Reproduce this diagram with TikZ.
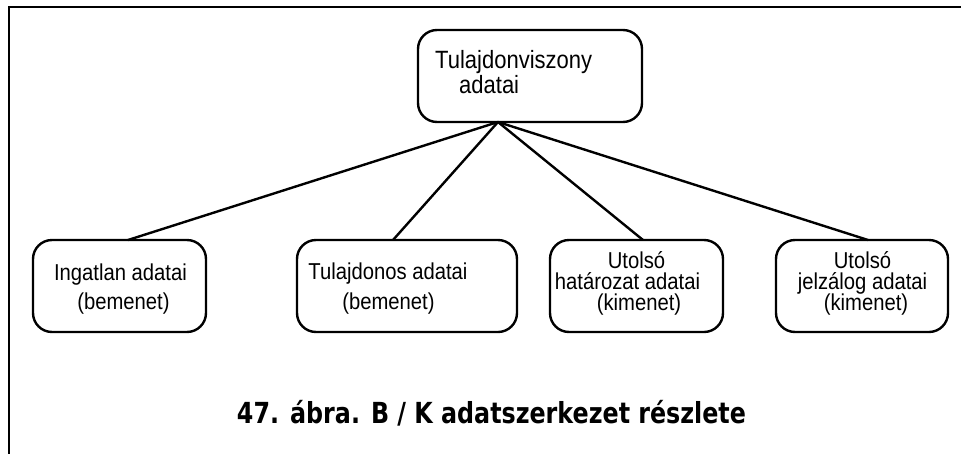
\documentclass[tikz,border=0pt]{standalone}
\usepackage{fontspec}
\setmainfont{Liberation Sans}
\newfontfamily\narrowfont[FakeStretch=0.88]{Liberation Sans}
\newfontfamily\capfont[FakeStretch=0.82]{DejaVu Sans}
\usepackage{tikz}
\usetikzlibrary{positioning}

\begin{document}
\begin{tikzpicture}[
    x=1pt, y=-1pt,
    box/.style={rectangle, rounded corners=19pt, draw, line width=2.4pt,
                minimum height=92pt, inner sep=0pt, outer sep=0pt},
    txt/.style={anchor=base, inner sep=0pt,
                font=\narrowfont\fontsize{23}{27}\selectfont},
    toptxt/.style={inner sep=0pt, align=left, anchor=base west,
                font=\narrowfont\fontsize{25}{21}\selectfont},
    edge/.style={line width=2.4pt},
    frame/.style={line width=2.4pt, line cap=rect}
]
\useasboundingbox (0,0) rectangle (961,453);

% Frame
\draw[frame] (9,453) -- (9,7) -- (961,7);

% Top box
\node[box, minimum width=224pt] (owner) at (530,76) {};
\node[toptxt] (ownerT) at (435,93) {Tulajdonviszony\\\hspace*{24pt}adatai};

% Bottom row
\node[box, minimum width=173pt] (estate) at (119.5,286) {};
\node[box, minimum width=220pt, right=91pt of estate] (holder) {};
\node[box, minimum width=173pt, right=33pt of holder] (resol) {};
\node[box, minimum width=172pt, right=53pt of resol] (mortg) {};

\node[txt] (estateA) at (120.5,280) {Ingatlan adatai};
\node[txt] (estateB) at (123.5,309) {(bemenet)};
\node[txt] (holderA) at (388,279) {Tulajdonos adatai};
\node[txt] (holderB) at (388.5,309) {(bemenet)};
\node[txt] (resolA) at (636.5,268) {Utolsó};
\node[txt] (resolB) at (627.5,289) {határozat adatai};
\node[txt] (resolC) at (639,310) {(kimenet)};
\node[txt] (mortgA) at (862.5,268) {Utolsó};
\node[txt] (mortgB) at (862.5,289) {jelzálog adatai};
\node[txt] (mortgC) at (866,310) {(kimenet)};

% Connectors
\coordinate (hub) at ([xshift=-32pt]owner.south);
\draw[edge] (hub) -- ([xshift=8.5pt]estate.north);
\draw[edge] (hub) -- ([xshift=-14pt]holder.north);
\draw[edge] (hub) -- ([xshift=6.5pt]resol.north);
\draw[edge] (hub) -- ([xshift=6pt]mortg.north);

% Caption
\node[anchor=base, inner sep=0pt, font=\capfont\bfseries\fontsize{29}{34}\selectfont]
    (caption) at (491.5,423) {47. ábra. B / K adatszerkezet részlete};

\end{tikzpicture}
\end{document}
